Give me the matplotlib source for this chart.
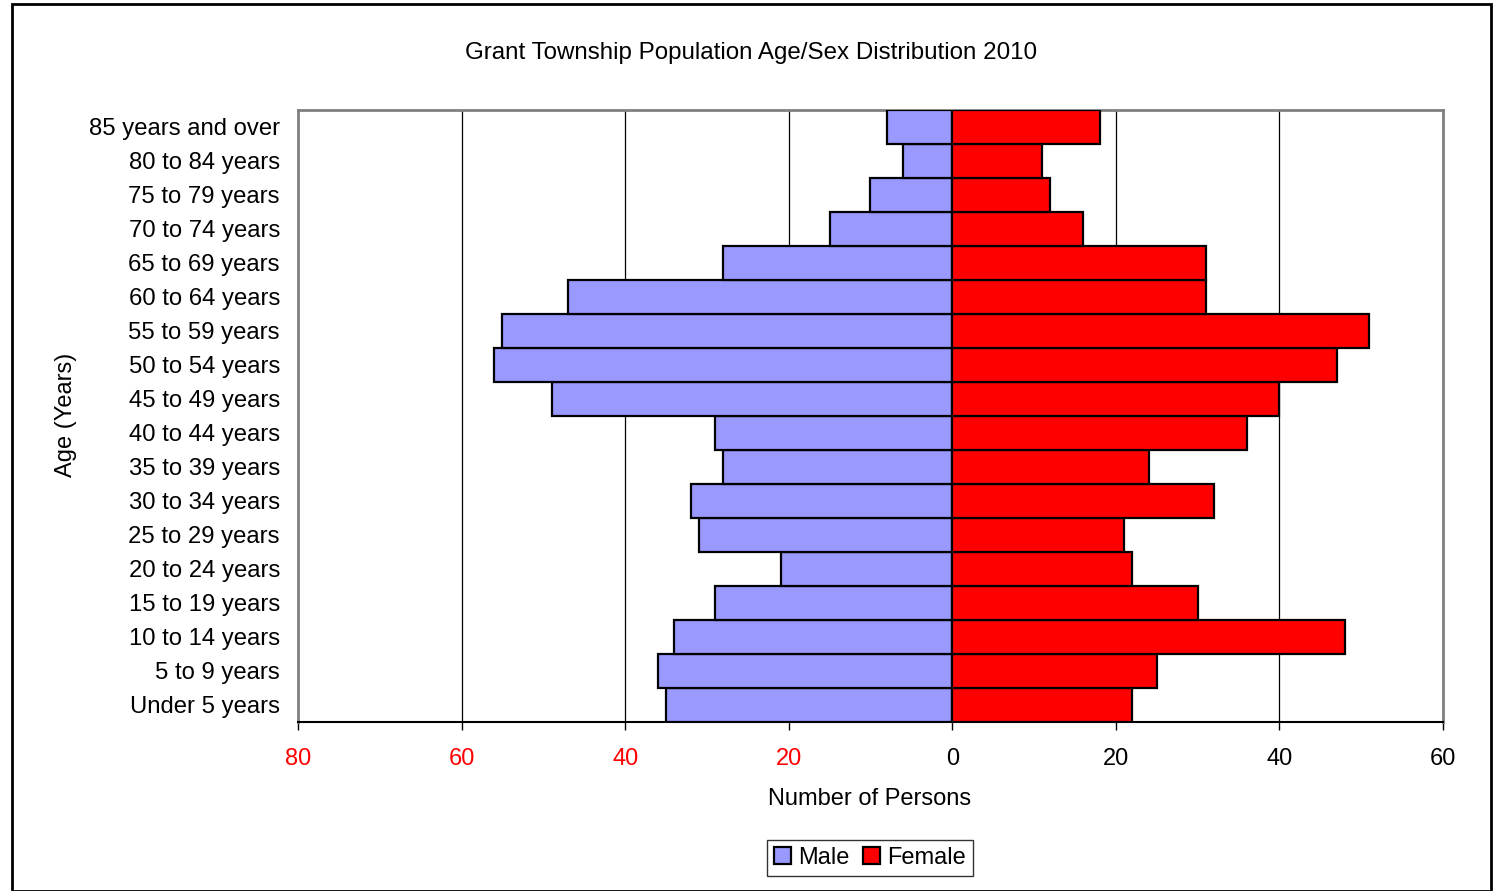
import matplotlib.pyplot as plt
import numpy as np
from matplotlib.patches import Rectangle

plt.rcParams['font.family'] = ['Liberation Sans', 'DejaVu Sans']

# 年龄组（自下而上）
age_groups = ['Under 5 years', '5 to 9 years', '10 to 14 years', '15 to 19 years',
              '20 to 24 years', '25 to 29 years', '30 to 34 years', '35 to 39 years',
              '40 to 44 years', '45 to 49 years', '50 to 54 years', '55 to 59 years',
              '60 to 64 years', '65 to 69 years', '70 to 74 years', '75 to 79 years',
              '80 to 84 years', '85 years and over']
male = [35, 36, 34, 29, 21, 31, 32, 28, 29, 49, 56, 55, 47, 28, 15, 10, 6, 8]
female = [22, 25, 48, 30, 22, 21, 32, 24, 36, 40, 47, 51, 31, 31, 16, 12, 11, 18]
x_ticks = [-80, -60, -40, -20, 0, 20, 40, 60]

fig = plt.figure(figsize=(14.95, 8.91), dpi=100)
ax = fig.add_axes([298 / 1495, 1 - 722 / 891, (1443 - 298) / 1495, (722 - 110) / 891])

y = np.arange(len(age_groups))
ax.barh(y, -np.array(male), height=1.0, color='#9999FF', edgecolor='black',
        linewidth=1.6, label='Male', zorder=3)
ax.barh(y, female, height=1.0, color='#FF0000', edgecolor='black',
        linewidth=1.6, label='Female', zorder=3)

ax.set_xlim(-80, 60)
ax.set_ylim(-0.5, len(age_groups) - 0.5)
ax.set_xticks(x_ticks)
ax.set_xticklabels([str(abs(v)) for v in x_ticks])
for lbl, v in zip(ax.get_xticklabels(), x_ticks):
    if v < 0:
        lbl.set_color('red')
ax.set_yticks(y)
ax.set_yticklabels(age_groups)
ax.tick_params(axis='x', labelsize=17, length=6, width=1, pad=13, direction='out')
ax.tick_params(axis='y', labelsize=17.2, length=0, pad=13)

# 网格线
for v in x_ticks[1:-1]:
    if v != 0:
        ax.axvline(v, color='black', linewidth=0.9, zorder=1)

for side in ['top', 'left', 'right']:
    ax.spines[side].set_color('#808080')
    ax.spines[side].set_linewidth(2)
ax.spines['bottom'].set_color('black')
ax.spines['bottom'].set_linewidth(1.5)

ax.set_xlabel('Number of Persons', fontsize=17)
ax.xaxis.set_label_coords((870 - 298) / (1443 - 298), -(788 - 722) / (722 - 110))
ax.set_ylabel('Age (Years)', fontsize=17)
ax.yaxis.set_label_coords(-(298 - 77) / (1443 - 298), (722 - 415) / (722 - 110))

fig.text(751 / 1495, 1 - 53 / 891, 'Grant Township Population Age/Sex Distribution 2010',
         fontsize=17.4, ha='center', va='center')

leg = fig.legend(loc='center', bbox_to_anchor=(870 / 1495, 1 - 858 / 891), ncol=2,
                 fontsize=17, frameon=True, fancybox=False, edgecolor='black',
                 handlelength=0.7, handleheight=0.7, handletextpad=0.3,
                 columnspacing=0.6, borderpad=0.3, borderaxespad=0)
leg.get_frame().set_linewidth(1)

# 外框
fig.patches.append(Rectangle((12 / 1495, 0), (1491 - 12) / 1495, 1 - 4 / 891,
                             transform=fig.transFigure, fill=False,
                             edgecolor='black', linewidth=2))

fig.savefig('out.png', dpi=100)
